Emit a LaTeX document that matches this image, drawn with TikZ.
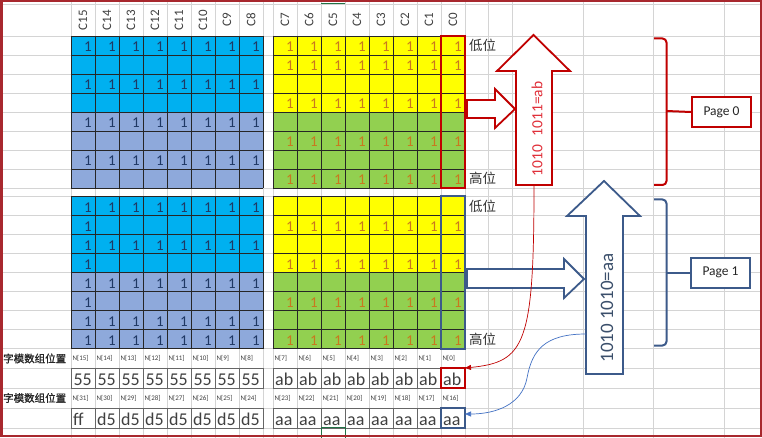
\documentclass[tikz,border=0pt]{standalone}
\usepackage{fontspec}
\setmainfont{Carlito}
\newfontfamily\cjk{Noto Sans CJK SC}
\newfontfamily\cjkb[FakeBold=1.2]{Noto Sans CJK SC}
\usetikzlibrary{arrows.meta}
\definecolor{gridc}{HTML}{D4D4D4}
\definecolor{cyanc}{HTML}{00B0F0}
\definecolor{steelc}{HTML}{8EA9DB}
\definecolor{yelc}{HTML}{FFFF00}
\definecolor{grnc}{HTML}{92D050}
\definecolor{oneb}{HTML}{1F3864}
\definecolor{oneo}{HTML}{C9781F}
\definecolor{redc}{HTML}{C00000}
\definecolor{redt}{HTML}{E0303A}
\definecolor{bluec}{HTML}{3C5A8A}
\definecolor{bluet}{HTML}{3B4F6B}
\definecolor{curveb}{HTML}{4472C4}
\definecolor{framec}{HTML}{A8282E}
\definecolor{txtc}{HTML}{404040}
\definecolor{xlgreen}{HTML}{217346}
\begin{document}
\begin{tikzpicture}[x=1pt,y=-1pt,
  gridline/.style={gridc, line width=0.6pt},
  celline/.style={black!85, line width=0.7pt},
  hdr/.style={rotate=90, font=\fontsize{13}{13}\selectfont, text=txtc, inner sep=0},
  oneL/.style={anchor=base east, inner sep=0, font=\fontsize{15}{15}\selectfont, text=oneb},
  oneR/.style={anchor=base east, inner sep=0, font=\fontsize{15}{15}\selectfont, text=oneo},
  nlab/.style={anchor=west, inner sep=0, font=\fontsize{7}{7}\selectfont, text=txtc},
  dcell/.style={draw=black!60, line width=0.7pt, minimum width=24pt, minimum height=20pt, inner sep=0, outer sep=0},
  vnum/.style={anchor=base east, inner sep=0, font=\fontsize{18}{18}\selectfont, text=txtc},
  vtxt/.style={anchor=base west, inner sep=0, font=\fontsize{18}{18}\selectfont, text=txtc},
  cjklab/.style={anchor=west, inner sep=0, font=\cjkb\fontsize{10.5}{10.5}\selectfont, text=black!85},
  poslab/.style={anchor=west, inner sep=0, font=\cjk\fontsize{13.5}{13.5}\selectfont, text=black!80},
  hollow/.style={fill=white, line width=1.8pt, line join=miter},
  brace/.style={line width=2pt, rounded corners=4pt},
  pagebox/.style={draw, line width=2pt, fill=white, minimum width=59pt, minimum height=30pt, inner sep=0, font=\fontsize{13.5}{13.5}\selectfont, text=black!85}
]
\useasboundingbox (0,0) rectangle (762,438);
\fill[white] (0,0) rectangle (762,438);
% spreadsheet grid
\foreach \y in {4,36,55,74,93,112,131,150,169,188,196.5,215.5,234.5,253.5,272.5,291.5,310.5,329.5,348.5,368,388,408,428}
  \draw[gridline] (0,\y) -- (762,\y);
\foreach \x in {71,95,...,263} \draw[gridline] (\x,0) -- (\x,438);
\foreach \x in {273,297,...,465} \draw[gridline] (\x,0) -- (\x,438);
\foreach \x in {488,512,583,653,724} \draw[gridline] (\x,0) -- (\x,438);
% colour blocks
\fill[cyanc] (71,36) rectangle (263,112);
\fill[steelc] (71,112) rectangle (263,188);
\fill[yelc] (273,36) rectangle (465,112);
\fill[grnc] (273,112) rectangle (465,188);
\fill[cyanc] (71,196.5) rectangle (263,272.5);
\fill[steelc] (71,272.5) rectangle (263,348.5);
\fill[yelc] (273,196.5) rectangle (465,272.5);
\fill[grnc] (273,272.5) rectangle (465,348.5);
% cell lines
\foreach \x in {71,95,...,263} {\draw[celline] (\x,36) -- (\x,188); \draw[celline] (\x,196.5) -- (\x,348.5);}
\foreach \x in {273,297,...,465} {\draw[celline] (\x,36) -- (\x,188); \draw[celline] (\x,196.5) -- (\x,348.5);}
\foreach \k in {0,...,8} {
  \draw[celline] (71,{36+19*\k}) -- (263,{36+19*\k});
  \draw[celline] (273,{36+19*\k}) -- (465,{36+19*\k});
  \draw[celline] (71,{196.5+19*\k}) -- (263,{196.5+19*\k});
  \draw[celline] (273,{196.5+19*\k}) -- (465,{196.5+19*\k});
}
% headers
\foreach \n [count=\i from 0] in {15,14,...,8} \node[hdr] (h\n) at ({83+24*\i},20) {C\n};
\foreach \n [count=\i from 0] in {7,6,...,0} \node[hdr] (h\n) at ({285+24*\i},20) {C\n};
% ones: page 0
\foreach \r in {1,3,5,7} \foreach \c in {0,...,7} \node[oneL] (pa\r\c) at ({92+24*\c},{33+19*\r}) {1};
\foreach \r in {1,2,4,6,8} \foreach \c in {0,...,7} \node[oneR] (pb\r\c) at ({294+24*\c},{33+19*\r}) {1};
% ones: page 1
\foreach \r in {1,3,5,7,8} \foreach \c in {0,...,7} \node[oneL] (qa\r\c) at ({92+24*\c},{193.5+19*\r}) {1};
\foreach \r in {2,4,6} \node[oneL] (qa\r0) at (92,{193.5+19*\r}) {1};
\foreach \r in {2,4,6,8} \foreach \c in {0,...,7} \node[oneR] (qb\r\c) at ({294+24*\c},{193.5+19*\r}) {1};
% C0 highlights
\draw[redc, line width=2pt] (441,36) rectangle (465,188);
\draw[bluec, line width=2pt] (441,196.5) rectangle (465,348.5);
% low/high labels
\node[poslab] (lo0) at (469,45.5) {低位};
\node[poslab] (hi0) at (469,178.5) {高位};
\node[poslab] (lo1) at (469,206) {低位};
\node[poslab] (hi1) at (469,339) {高位};
% array position rows
\node[cjklab] (lab0) at (3,358.5) {字模数组位置};
\node[cjklab] (lab1) at (3,398) {字模数组位置};
\foreach \n [count=\i from 0] in {15,14,...,8} \node[nlab] (nl\n) at ({72.5+24*\i},358.5) {N[\n]};
\foreach \n [count=\i from 0] in {7,6,...,0} \node[nlab] (nl\n) at ({274.5+24*\i},358.5) {N[\n]};
\foreach \n [count=\i from 0] in {31,30,...,24} \node[nlab] (nl\n) at ({72.5+24*\i},398) {N[\n]};
\foreach \n [count=\i from 0] in {23,22,...,16} \node[nlab] (nl\n) at ({274.5+24*\i},398) {N[\n]};
% data cells
\foreach \n [count=\i from 0] in {15,14,...,8} {
  \node[dcell] (d\n) at ({83+24*\i},378) {};
  \node[vnum] (v\n) at ({92+24*\i},385) {55};}
\foreach \n [count=\i from 0] in {7,6,...,0} {
  \node[dcell] (d\n) at ({285+24*\i},378) {};
  \node[vtxt] (v\n) at ({275+24*\i},385) {ab};}
\node[dcell] (d31) at (83,418) {};
\node[vtxt] (v31) at (73,425) {ff};
\foreach \n [count=\i from 1] in {30,29,...,24} {
  \node[dcell] (d\n) at ({83+24*\i},418) {};
  \node[vtxt] (v\n) at ({73+24*\i},425) {d5};}
\foreach \n [count=\i from 0] in {23,22,...,16} {
  \node[dcell] (d\n) at ({285+24*\i},418) {};
  \node[vtxt] (v\n) at ({275+24*\i},425) {aa};}
\draw[redc, line width=2pt] (d0.south west) rectangle (d0.north east);
\draw[bluec, line width=2pt] (d16.south west) rectangle (d16.north east);
% right arrows
\draw[hollow, draw=redc] (467,100) -- (495,100) -- (495,89) -- (515,109) -- (495,128) -- (495,118) -- (467,118) -- cycle;
\draw[hollow, draw=bluec] (467,269) -- (564,269) -- (564,259) -- (584,279) -- (564,298) -- (564,288) -- (467,288) -- cycle;
% up arrows
\draw[hollow, draw=redc] (516,185) -- (516,71) -- (497,71) -- (533.5,35) -- (570,71) -- (552,71) -- (552,185) -- cycle;
\node[rotate=90, text=redt, inner sep=0, font=\fontsize{15.5}{15.5}\selectfont] (t0) at (537,129) {1010\hspace{5pt} 1011=ab};
\draw[hollow, draw=bluec] (586,374) -- (586,216) -- (567,216) -- (604,181) -- (640,216) -- (623,216) -- (623,374) -- cycle;
\node[rotate=90, text=bluet, inner sep=0, font=\fontsize{19}{19}\selectfont] (t1) at (607,308) {1010 1010=aa};
\coordinate (ra) at (534,185);
\coordinate (ba) at (586,334);
% braces and page boxes
\draw[brace, redc] (654,38.5) -- (666.5,38.5) -- (666.5,185) -- (654,185);
\node[pagebox, draw=redc] (p0) at (721.5,112) {Page 0};
\draw[redc, line width=2pt] (666.5,111) -- (p0.west);
\draw[brace, bluec] (654,199.5) -- (666.5,199.5) -- (666.5,345.5) -- (654,345.5);
\node[pagebox, draw=bluec] (p1) at (720.5,272.5) {Page 1};
\draw[bluec, line width=2pt] (666.5,272.5) -- (p1.west);
% connectors
\draw[redc, line width=0.7pt, -{Triangle[length=6pt,width=5pt]}] (ra) .. controls (534,345) and (525,362) .. (d0.north east);
\draw[curveb, line width=0.7pt, -{Triangle[length=6pt,width=5pt]}] (ba) .. controls (545,334) and (532,350) .. (527,378) .. controls (522,405) and (495,414) .. ([yshift=4pt]d16.east);
% excel markers and frame
\draw[xlgreen, line width=1.5pt] (321,3.5) -- (345,3.5);
\draw[xlgreen, line width=1pt] (321,438) -- (321,427) -- (345,427) -- (345,438);
\draw[framec, line width=2.5pt] (1.25,1.25) rectangle (760.75,436);
\end{tikzpicture}
\end{document}
